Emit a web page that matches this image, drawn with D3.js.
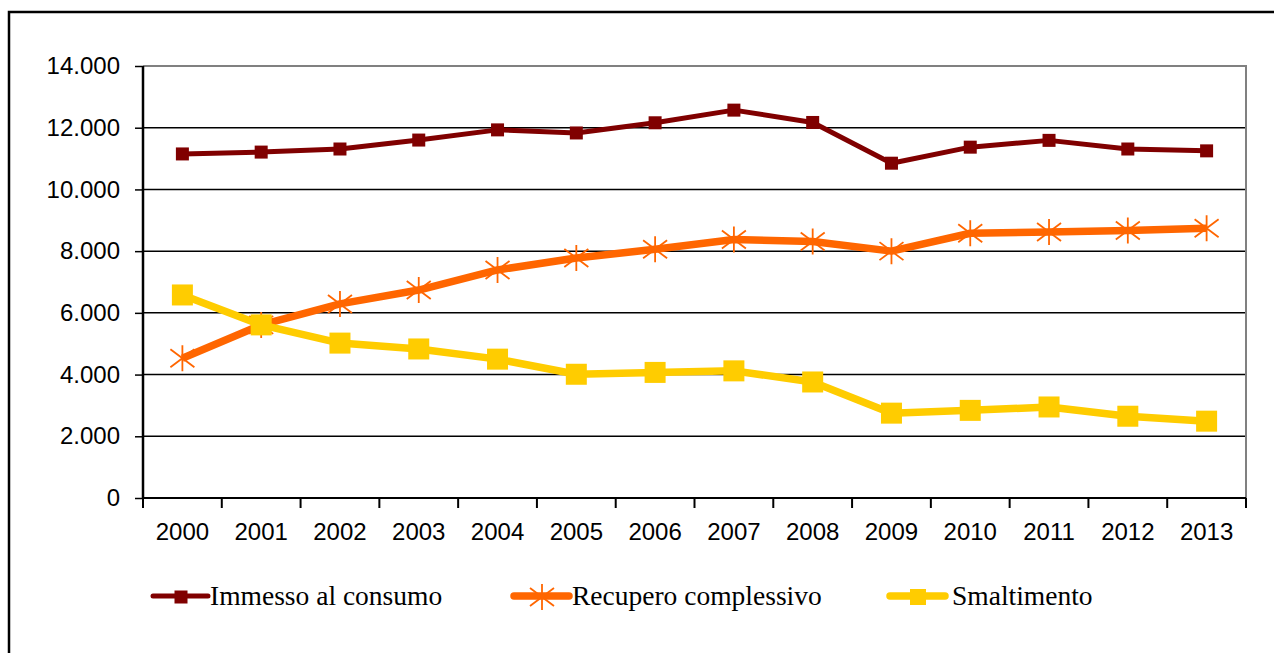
<!DOCTYPE html>
<html>
<head>
<meta charset="utf-8">
<script src="https://cdn.jsdelivr.net/npm/d3@7"></script>
<style>
  body { margin: 0; background: #fff; }
  svg { display: block; }
</style>
</head>
<body>
<div id="chart"></div>
<script>
// dati
const years = ['2000', '2001', '2002', '2003', '2004', '2005', '2006', '2007', '2008', '2009', '2010', '2011', '2012', '2013'];
const immesso = [11150, 11210, 11310, 11600, 11930, 11830, 12160, 12570, 12170, 10850, 11370, 11590, 11310, 11250];
const recupero = [4530, 5610, 6290, 6740, 7390, 7780, 8060, 8380, 8310, 8000, 8580, 8620, 8670, 8740];
const smaltimento = [6580, 5610, 5020, 4830, 4500, 4010, 4070, 4120, 3760, 2750, 2840, 2950, 2650, 2490];
const yTicks = [0, 2000, 4000, 6000, 8000, 10000, 12000, 14000];
const seriesNames = ['Immesso al consumo', 'Recupero complessivo', 'Smaltimento'];

const W = 1274, H = 653;
const margin = { top: 66, right: 28, bottom: 155, left: 143 };
const width = W - margin.left - margin.right;
const height = H - margin.top - margin.bottom;

const itFormat = d3.formatLocale({ decimal: ',', thousands: '.', grouping: [3], currency: ['', '€'] }).format(',d');

const svg = d3.select('#chart')
    .append('svg')
    .attr('width', W)
    .attr('height', H);

// cornice esterna
svg.append('rect')
    .attr('x', 9)
    .attr('y', 12)
    .attr('width', W + 20)
    .attr('height', H + 20)
    .attr('fill', 'none')
    .attr('stroke', '#000')
    .attr('stroke-width', 2.5);

const g = svg.append('g')
    .attr('transform', `translate(${margin.left},${margin.top})`);

const x = d3.scaleBand().domain(years).range([0, width]).padding(0);
const y = d3.scaleLinear().domain([0, 14000]).range([height, 0]);

// griglia
g.selectAll('.grid')
    .data(yTicks.filter(d => d > 0 && d < 14000))
    .enter()
    .append('line')
    .attr('x1', 0)
    .attr('x2', width)
    .attr('y1', d => y(d))
    .attr('y2', d => y(d))
    .attr('stroke', '#000')
    .attr('stroke-width', 1.5);

// bordo area grafico (alto e destra, grigio)
g.append('path')
    .attr('d', `M0,${y(14000)}H${width}V${height}`)
    .attr('fill', 'none')
    .attr('stroke', '#808080')
    .attr('stroke-width', 2);

// asse y
const yAxis = g.append('g')
    .call(d3.axisLeft(y).tickValues(yTicks).tickFormat(itFormat).tickSize(8).tickPadding(15));
yAxis.select('.domain').remove();
yAxis.selectAll('line').attr('stroke', '#000').attr('stroke-width', 1.5);
yAxis.selectAll('text')
    .attr('font-family', '"Liberation Sans", Arial, sans-serif')
    .attr('font-size', 24)
    .attr('fill', '#000');
g.append('line')
    .attr('x1', 0).attr('x2', 0)
    .attr('y1', 0).attr('y2', height)
    .attr('stroke', '#000')
    .attr('stroke-width', 2.5);

// asse x
const xAxis = g.append('g')
    .attr('transform', `translate(0,${height})`)
    .call(d3.axisBottom(x).tickSize(0).tickPadding(25));
xAxis.select('.domain').remove();
xAxis.selectAll('text')
    .attr('font-family', '"Liberation Sans", Arial, sans-serif')
    .attr('font-size', 24)
    .attr('fill', '#000');
g.append('line')
    .attr('x1', 0).attr('x2', width)
    .attr('y1', height).attr('y2', height)
    .attr('stroke', '#000')
    .attr('stroke-width', 2);
g.selectAll('.xtick')
    .data(years.map(d => x(d)).concat([width]))
    .enter()
    .append('line')
    .attr('x1', d => d).attr('x2', d => d)
    .attr('y1', height).attr('y2', height + 10)
    .attr('stroke', '#000')
    .attr('stroke-width', 2);

const cx = d => x(d) + x.bandwidth() / 2;

// stili serie
const styles = [
    { color: '#800000', lw: 5, marker: 'sq', size: 13 },
    { color: '#FF6600', lw: 7.5, marker: 'ast', size: 24 },
    { color: '#FFCC00', lw: 7.5, marker: 'sq', size: 21 }
];
const allSeries = [immesso, recupero, smaltimento];

function drawMarker(sel, st) {
    if (st.marker === 'sq') {
        sel.append('rect')
            .attr('x', -st.size / 2)
            .attr('y', -st.size / 2)
            .attr('width', st.size)
            .attr('height', st.size)
            .attr('fill', st.color);
    } else {
        const s = st.size / 2;
        sel.append('path')
            .attr('d', `M0,${-s - 1}V${s + 1}M${-s},${-s * 0.75}L${s},${s * 0.75}M${-s},${s * 0.75}L${s},${-s * 0.75}`)
            .attr('stroke', st.color)
            .attr('stroke-width', 1.8)
            .attr('fill', 'none');
    }
}

const line = d3.line().x((d, i) => cx(years[i])).y(d => y(d));

allSeries.forEach((vals, k) => {
    const st = styles[k];
    g.append('path')
        .datum(vals)
        .attr('d', line)
        .attr('fill', 'none')
        .attr('stroke', st.color)
        .attr('stroke-width', st.lw)
        .attr('stroke-linejoin', 'round');
    g.selectAll('.m' + k)
        .data(vals)
        .enter()
        .append('g')
        .attr('transform', (d, i) => `translate(${cx(years[i])},${y(d)})`)
        .each(function () { drawMarker(d3.select(this), st); });
});

// legenda
const legendX = [153, 514, 890];
const legendTextX = [210, 572, 952];
seriesNames.forEach((name, k) => {
    const st = styles[k];
    const lg = svg.append('g').attr('transform', `translate(${legendX[k]},596)`);
    lg.append('line')
        .attr('x1', 0).attr('x2', 55)
        .attr('y1', 0).attr('y2', 0)
        .attr('stroke', st.color)
        .attr('stroke-width', st.lw)
        .attr('stroke-linecap', 'round');
    const mg = lg.append('g').attr('transform', 'translate(28,1)');
    drawMarker(mg, k === 2 ? { color: st.color, marker: 'sq', size: 16 } : st);
    svg.append('text')
        .attr('x', legendTextX[k])
        .attr('y', 605)
        .attr('font-family', '"Liberation Serif", "Times New Roman", serif')
        .attr('font-size', 27.5)
        .attr('fill', '#000')
        .text(name);
});
</script>
</body>
</html>
